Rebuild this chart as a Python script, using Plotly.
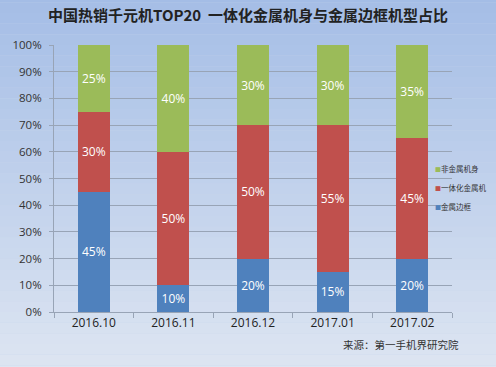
import plotly.graph_objects as go

categories = ["2016.10", "2016.11", "2016.12", "2017.01", "2017.02"]
metal_frame = [45, 10, 20, 15, 20]
unibody = [30, 50, 50, 55, 45]
non_metal = [25, 40, 30, 30, 35]
series_names = ["金属边框", "一体化金属机", "非金属机身"]
colors = ["#4F81BD", "#C0504D", "#9BBB59"]
tick_vals = [0, 10, 20, 30, 40, 50, 60, 70, 80, 90, 100]
tick_text = [f"{v}%" for v in tick_vals]

font_cjk = "Noto Sans CJK SC, Microsoft YaHei, sans-serif"

fig = go.Figure()
for name, vals, col in zip(series_names, [metal_frame, unibody, non_metal], colors):
    fig.add_trace(go.Bar(
        x=categories, y=vals, name=name, marker=dict(color=col, line=dict(width=0)),
        showlegend=False,
        text=[f"{v}%" for v in vals], textposition="inside", insidetextanchor="middle",
        textfont=dict(color="white", size=12, family="Open Sans, sans-serif"),
        hoverinfo="skip",
    ))

# legend entries (small square glyph in the label, like the original)
for name, col in reversed(list(zip(series_names, colors))):
    fig.add_trace(go.Scatter(
        x=[None], y=[None], mode="markers",
        marker=dict(size=1, color="rgba(0,0,0,0)"),
        name=f'<span style="color:{col};font-size:6px">■</span>{name}',
        hoverinfo="skip",
    ))

# gradient background
shapes = []
n = 40
top = (164, 189, 230)
bot = (228, 234, 243)
for i in range(n):
    t = i / (n - 1)
    c = tuple(int(round(top[k] + (bot[k] - top[k]) * t)) for k in range(3))
    shapes.append(dict(type="rect", xref="paper", yref="paper",
                       x0=-0.2, x1=1.3, y0=1.2 - (i + 1) * 1.6 / n, y1=1.2 - i * 1.6 / n,
                       fillcolor=f"rgb{c}", line=dict(width=0), layer="below"))

fig.update_layout(
    width=496, height=367,
    margin=dict(l=54, r=44, t=45, b=55, autoexpand=False),
    barmode="stack", bargap=0.6,
    paper_bgcolor="#c6d4ea", plot_bgcolor="rgba(0,0,0,0)",
    shapes=shapes,
    title=dict(text="<b>中国热销千元机TOP20  一体化金属机身与金属边框机型占比</b>",
               x=0.5, xanchor="center", y=0.958, yanchor="middle",
               font=dict(size=15, color="#222222", family=font_cjk)),
    legend=dict(x=0.857, xanchor="left", y=0.464, yanchor="middle", traceorder="normal",
                font=dict(size=7.5, color="#333333", family=font_cjk),
                bgcolor="rgba(0,0,0,0)", itemwidth=30),
    showlegend=True,
    annotations=[dict(text="来源：第一手机界研究院", xref="paper", yref="paper",
                      x=0.872, y=-0.123, xanchor="center", yanchor="middle", showarrow=False,
                      font=dict(size=10.5, color="#333333", family=font_cjk))],
    font=dict(family="Open Sans, sans-serif"),
)
fig.update_yaxes(range=[0, 100], tickvals=tick_vals, ticktext=tick_text,
                 showgrid=True, gridcolor="#98a4b6", gridwidth=1, automargin=False,
                 showline=True, linecolor="#98a4b6", ticks="outside", ticklen=4,
                 tickcolor="#98a4b6", tickfont=dict(size=11.5, color="#333333"),
                 ticklabelstandoff=5, zeroline=False)
fig.update_xaxes(showline=True, linecolor="#98a4b6", ticks="outside", ticklen=5,
                 tickcolor="#98a4b6", tickson="boundaries", automargin=False,
                 tickfont=dict(size=12, color="#222222"))

fig.write_html("out.html", config={"displayModeBar": False},
               post_script="document.body.style.margin='0';")
